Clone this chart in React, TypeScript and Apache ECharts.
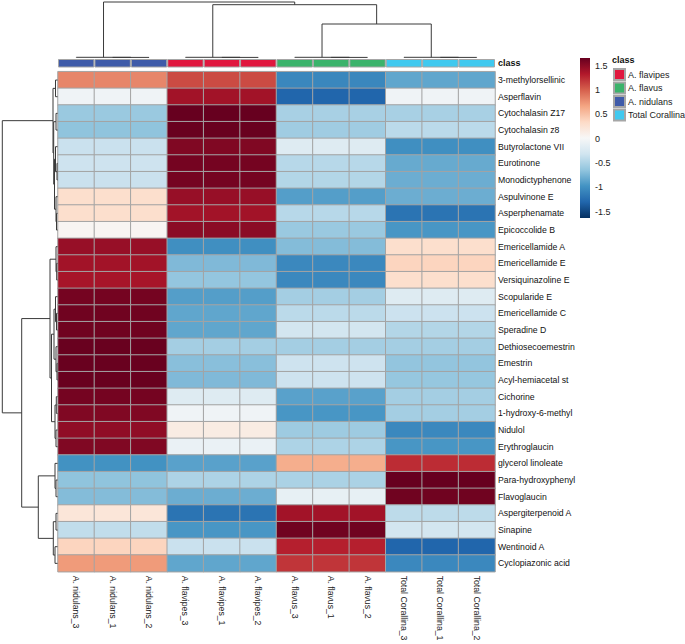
import React, { useEffect, useRef } from 'react';
import * as echarts from 'echarts';

const rowNames = [
  '3-methylorsellinic', 'Asperflavin', 'Cytochalasin Z17', 'Cytochalasin z8', 'Butyrolactone VII',
  'Eurotinone', 'Monodictyphenone', 'Aspulvinone E', 'Asperphenamate', 'Epicoccolide B',
  'Emericellamide A', 'Emericellamide E', 'Versiquinazoline E', 'Scopularide E', 'Emericellamide C',
  'Speradine D', 'Dethiosecoemestrin', 'Emestrin', 'Acyl-hemiacetal st', 'Cichorine',
  '1-hydroxy-6-methyl', 'Nidulol', 'Erythroglaucin', 'glycerol linoleate', 'Para-hydroxyphenyl',
  'Flavoglaucin', 'Aspergiterpenoid A', 'Sinapine', 'Wentinoid A', 'Cyclopiazonic acid',
];

const columnNames = [
  'A. nidulans_3', 'A. nidulans_1', 'A. nidulans_2',
  'A. flavipes_3', 'A. flavipes_1', 'A. flavipes_2',
  'A. flavus_3', 'A. flavus_1', 'A. flavus_2',
  'Total Corallina_3', 'Total Corallina_1', 'Total Corallina_2',
];

const classNames = ['A. flavipes', 'A. flavus', 'A. nidulans', 'Total Corallina'];
const classColors = ['#E0173E', '#3BB36B', '#3F5BA9', '#40C9EF'];
// class of each column (index into classNames)
const columnClass = [2, 2, 2, 0, 0, 0, 1, 1, 1, 3, 3, 3];

// row z-scores per class (replicates share the same value)
const zFlavipes = [1.1, 1.4, 1.66, 1.65, 1.55, 1.6, 1.6, 1.45, 1.4, 1.5, -1.0, -0.72, -0.63, -0.9, -0.85, -0.85, -0.55, -0.68, -0.72, -0.2, -0.05, 0.15, -0.1, -0.88, -0.5, -0.8, -1.2, -0.95, -0.35, -0.85];
const zFlavus = [-1.06, -1.3, -0.53, -0.57, -0.2, -0.45, -0.47, -0.9, -0.45, -0.6, -0.7, -1.05, -1.05, -0.55, -0.43, -0.3, -0.55, -0.33, -0.33, -0.88, -0.95, -0.58, -0.5, 0.62, -0.51, -0.12, 1.4, 1.62, 1.3, 1.2];
const zNidulans = [0.82, -0.05, -0.6, -0.65, -0.35, -0.33, -0.35, 0.3, 0.3, 0.05, 1.45, 1.4, 1.38, 1.6, 1.62, 1.62, 1.65, 1.65, 1.65, 1.6, 1.55, 1.48, 1.55, -0.98, -0.65, -0.7, 0.22, -0.4, 0.38, 0.72];
const zCorallina = [-0.85, -0.05, -0.53, -0.43, -1.0, -0.82, -0.8, -0.8, -1.2, -0.95, 0.3, 0.38, 0.3, -0.2, -0.34, -0.47, -0.55, -0.64, -0.62, -0.55, -0.55, -1.05, -0.95, 1.24, 1.66, 1.62, -0.42, -0.3, -1.3, -1.05];
const zByClass = [zFlavipes, zFlavus, zNidulans, zCorallina];

const colorMin = -1.63;
const colorMax = 1.66;
const colorTicks = [-1.5, -1, -0.5, 0, 0.5, 1, 1.5];
const palette = ['#053061', '#2166AC', '#4393C3', '#92C5DE', '#D1E5F0', '#F7F7F7', '#FDDBC7', '#F4A582', '#D6604D', '#B2182B', '#67001F'];

// hclust-style merges: negative = leaf (1-based), positive = earlier merge (1-based); [a, b, height]
const rowMerges: number[][] = [
  [-6, -7, 0.5], [-5, 1, 2], [-9, -10, 1], [-8, 3, 1.5], [2, 4, 3], [-3, -4, 1.5], [6, 5, 3.8], [-1, -2, 2], [8, 7, 4.5],
  [-12, -13, 0.8], [-11, 10, 1.5], [-15, -16, 1], [-14, 12, 2], [-18, -19, 0.5], [-17, 14, 1.5], [13, 15, 3.5],
  [-20, -21, 1.2], [-22, -23, 1.5], [17, 18, 2.5], [16, 19, 6], [11, 20, 7.5],
  [-25, -26, 1.5], [-24, 22, 2.5], [-27, -28, 1.5], [-29, -30, 2.5], [24, 25, 4.2], [23, 26, 19.2],
  [21, 27, 35.8], [9, 28, 55.2],
];
const colMerges: number[][] = [
  [-2, -3, 0.1], [-1, 1, 0.2], [-5, -6, 0.1], [-4, 3, 0.2], [-8, -9, 0.1], [-7, 5, 0.2],
  [-11, -12, 0.1], [-10, 7, 0.2], [6, 8, 33.5], [4, 9, 52.8], [2, 10, 55.5],
];

function dendroSegments(merges: number[][]) {
  const pos: number[] = [];
  const hgt: number[] = [];
  const out: number[][] = [];
  const get = (id: number) => (id < 0 ? [-id - 0.5, 0] : [pos[id - 1], hgt[id - 1]]);
  merges.forEach(([a, b, h], i) => {
    const [pa, ha] = get(a);
    const [pb, hb] = get(b);
    pos[i] = (pa + pb) / 2;
    hgt[i] = h;
    out.push([pa, ha, pb, hb, h]);
  });
  return out;
}

const FONT = 'Liberation Sans, Arial, Helvetica, sans-serif';

export default function App() {
  const ref = useRef<HTMLDivElement>(null);
  useEffect(() => {
    if (!ref.current) return;
    const chart = echarts.init(ref.current, null, { renderer: 'svg' });

    const heatData: number[][] = [];
    rowNames.forEach((_, r) => {
      columnNames.forEach((_, c) => {
        heatData.push([c, r, zByClass[columnClass[c]][r]]);
      });
    });

    const dendroRender = (horizontal: boolean) => (params: any, api: any) => {
      const pa = api.value(0), ha = api.value(1), pb = api.value(2), hb = api.value(3), h = api.value(4);
      const pt = (p: number, hh: number) => (horizontal ? api.coord([hh, p]) : api.coord([p, hh]));
      return {
        type: 'polyline',
        shape: { points: [pt(pa, ha), pt(pa, h), pt(pb, h), pt(pb, hb)] },
        style: { stroke: '#3a3a3a', lineWidth: 1, fill: null },
      };
    };

    const annotationSeries = classNames.map((name, k) => ({
      type: 'bar',
      name,
      xAxisIndex: 1,
      yAxisIndex: 1,
      barWidth: '100%',
      barGap: '-100%',
      itemStyle: { color: classColors[k], borderColor: '#A6A6A6', borderWidth: 1 },
      data: columnClass.map((cl) => (cl === k ? 1 : '-')),
    }));

    const option: any = {
      animation: false,
      textStyle: { fontFamily: FONT },
      grid: [
        { left: 58, top: 71.7, width: 437, height: 500 },
        { left: 58, top: 59, width: 437, height: 8.5 },
        { left: 58, top: 0, width: 437, height: 57.5 },
        { left: 2.3, top: 71.7, width: 55.2, height: 500 },
        { left: 580, top: 58, width: 10, height: 160 },
      ],
      xAxis: [
        {
          gridIndex: 0, type: 'category', data: columnNames, position: 'bottom',
          axisLine: { show: false }, axisTick: { show: false }, splitLine: { show: false },
          axisLabel: { rotate: -90, interval: 0, margin: 4, fontSize: 8.7, color: '#222', fontFamily: FONT },
        },
        { gridIndex: 1, type: 'category', data: columnNames, show: false },
        { gridIndex: 2, type: 'value', min: 0, max: 12, show: false },
        { gridIndex: 3, type: 'value', min: 0, max: 55.2, inverse: true, show: false },
        { gridIndex: 4, type: 'category', data: ['bar'], show: false },
      ],
      yAxis: [
        {
          gridIndex: 0, type: 'category', data: rowNames, inverse: true, position: 'right',
          axisLine: { show: false }, axisTick: { show: false }, splitLine: { show: false },
          axisLabel: { interval: 0, margin: 3, fontSize: 8.7, color: '#111', fontFamily: FONT },
        },
        {
          gridIndex: 1, type: 'value', min: 0, max: 1, position: 'right',
          axisLine: { show: false }, axisTick: { show: false }, splitLine: { show: false },
          axisLabel: {
            customValues: [0.5], formatter: () => 'class', margin: 3,
            fontSize: 9, fontWeight: 'bold', color: '#111', fontFamily: FONT,
          },
        },
        { gridIndex: 2, type: 'value', min: 0, max: 57.5, show: false },
        { gridIndex: 3, type: 'value', min: 0, max: 30, inverse: true, show: false },
        {
          gridIndex: 4, type: 'value', min: colorMin, max: colorMax, position: 'right',
          axisLine: { show: false }, axisTick: { show: false }, splitLine: { show: false },
          axisLabel: { customValues: colorTicks, margin: 5, fontSize: 9, color: '#222', fontFamily: FONT },
        },
      ],
      visualMap: {
        type: 'continuous', min: colorMin, max: colorMax, seriesIndex: 0, show: false,
        inRange: { color: palette },
      },
      legend: {
        data: classNames,
        orient: 'vertical',
        left: 613,
        top: 68,
        itemWidth: 11,
        itemHeight: 11,
        itemGap: 0.5,
        padding: 0,
        icon: 'rect',
        selectedMode: false,
        textStyle: { fontSize: 9, color: '#222', padding: [0, 0, 0, -2], lineHeight: 11, fontFamily: FONT },
      },
      graphic: [
        {
          type: 'text', left: 612, top: 55,
          style: { text: 'class', font: `bold 9px ${FONT}`, fill: '#111' },
        },
      ],
      series: [
        {
          type: 'heatmap', xAxisIndex: 0, yAxisIndex: 0, data: heatData,
          itemStyle: { borderColor: '#A3A3A3', borderWidth: 1 },
          emphasis: { disabled: true },
        },
        ...annotationSeries,
        {
          type: 'custom', xAxisIndex: 2, yAxisIndex: 2, renderItem: dendroRender(false),
          data: dendroSegments(colMerges), silent: true,
        },
        {
          type: 'custom', xAxisIndex: 3, yAxisIndex: 3, renderItem: dendroRender(true),
          data: dendroSegments(rowMerges), silent: true,
        },
        {
          type: 'custom', xAxisIndex: 4, yAxisIndex: 4, silent: true,
          data: [[0, colorMin, colorMax]],
          renderItem: (params: any, api: any) => {
            const top = api.coord([0, api.value(2)]);
            const bottom = api.coord([0, api.value(1)]);
            const w = api.size([1, 0])[0];
            const stops = palette.map((c, i) => ({ offset: 1 - i / (palette.length - 1), color: c }))
              .sort((a, b) => a.offset - b.offset);
            return {
              type: 'rect',
              shape: { x: top[0] - w / 2, y: top[1], width: w, height: bottom[1] - top[1] },
              style: { fill: new echarts.graphic.LinearGradient(0, 0, 0, 1, stops) },
            };
          },
        },
      ],
    };

    chart.setOption(option);
    return () => chart.dispose();
  }, []);

  return <div ref={ref} style={{ position: 'absolute', left: 0, top: 0, width: 685, height: 644 }} />;
}
